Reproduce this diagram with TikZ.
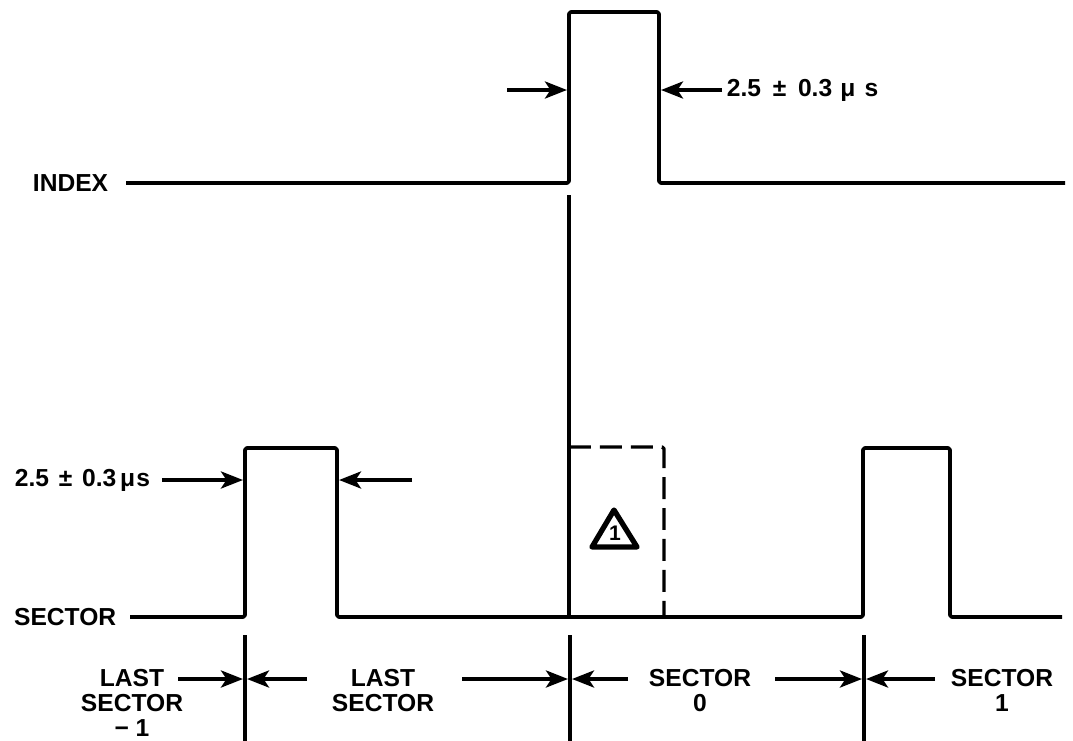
\documentclass[tikz,border=0pt]{standalone}
\usepackage{fontspec}
\setmainfont{Liberation Sans}
\usepackage{tikz}
\usetikzlibrary{arrows.meta}

\begin{document}
\begin{tikzpicture}[x=0.02cm,y=-0.02cm,line width=2.1pt,line join=round,
  sig/.style={rounded corners=1pt},
  bound/.style={line width=1.9pt},
  tip/.style={line width=2.2pt,-{Stealth[length=4.4mm,width=3.4mm,inset=1.1mm]}},
  lbl/.style={inner sep=0pt,font=\bfseries\fontsize{14}{14.5}\selectfont,align=center}]
\useasboundingbox (0,0) rectangle (1073,741);
% signal names
\node[lbl,anchor=east] (idx) at (110,183) {INDEX};
\node[lbl,anchor=east] (sec) at (118,617) {SECTOR};
% index pulse
\draw[sig] (126,183) -- (569,183) -- (569,12) -- (659,12) -- (659,183) -- (1065,183);
\draw[bound] (569,195) -- (569,617);
\node[lbl,anchor=west] (iw) at (725,90) {2.5 \hspace{0.2em}±\hspace{0.2em} 0.3 \hspace{0.05em}μ\hspace{0.1em} s};
\coordinate (iwA) at (507,90);
\coordinate (iwB) at (567,90);
\coordinate (iwC) at (661,90);
\draw[tip] (iwA) -- (iwB);
\draw[tip] (iw.west) ++(-3,0) coordinate (iwD) -- (iwC);
% sector pulses
\draw[sig] (130,617) -- (245,617) -- (245,448) -- (337,448) -- (337,617) -- (863,617) -- (863,448) -- (950,448) -- (950,617) -- (1062,617);
\draw[bound,dash pattern=on 0.44cm off 0.18cm,rounded corners=1pt] (569,447) -- (664,447) -- (664,617);
\node[lbl,anchor=west] (sw) at (13,480) {2.5\hspace{0.4em}±\hspace{0.4em}0.3\hspace{0.15em}μ\hspace{0.05em}s};
\coordinate (swB) at (243,480);
\coordinate (swC) at (412,480);
\coordinate (swD) at (339,480);
\draw[tip] (sw.east) ++(10,0) coordinate (swA) -- (swB);
\draw[tip] (swC) -- (swD);
% note flag
\draw[line width=3pt] (592,547) -- (637,547) -- (614,510) -- cycle;
\node[inner sep=0pt,font=\bfseries\fontsize{12}{12}\selectfont] (flag) at (615,533) {1};
% sector boundaries
\draw[bound] (245,635) -- (245,741);
\draw[bound] (570,635) -- (570,741);
\draw[bound] (864,635) -- (864,741);
\node[lbl,anchor=north] (lsm) at (132,667) {LAST\\SECTOR\\− 1};
\node[lbl,anchor=north] (ls) at (383,667) {LAST\\SECTOR};
\node[lbl,anchor=north] (s0) at (700,667) {SECTOR\\0};
\node[lbl,anchor=north] (s1) at (1002,667) {SECTOR\\1};
\coordinate (b1a) at (178,679);
\coordinate (b1b) at (243,679);
\coordinate (b1c) at (307,679);
\coordinate (b1d) at (247,679);
\coordinate (b2a) at (462,679);
\coordinate (b2b) at (568,679);
\coordinate (b2c) at (628,679);
\coordinate (b2d) at (572,679);
\coordinate (b3a) at (775,679);
\coordinate (b3b) at (862,679);
\coordinate (b3c) at (935,679);
\coordinate (b3d) at (866,679);
\draw[tip] (b1a) -- (b1b);
\draw[tip] (b1c) -- (b1d);
\draw[tip] (b2a) -- (b2b);
\draw[tip] (b2c) -- (b2d);
\draw[tip] (b3a) -- (b3b);
\draw[tip] (b3c) -- (b3d);
\end{tikzpicture}
\end{document}
